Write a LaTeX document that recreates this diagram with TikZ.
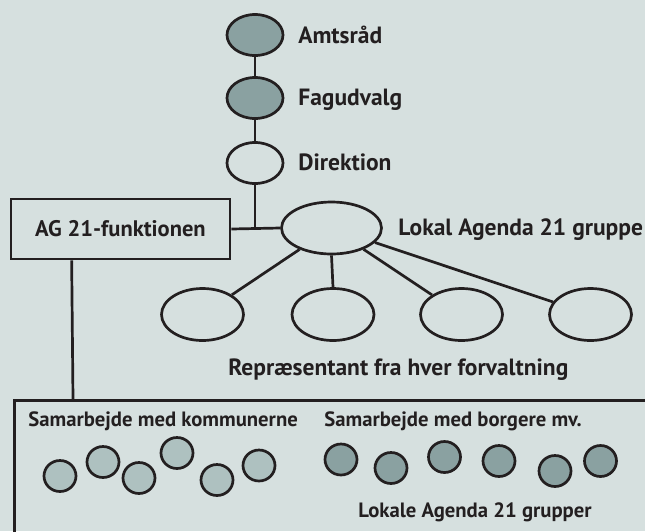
\documentclass[tikz,border=0pt]{standalone}
\usepackage{fontspec}
\setmainfont{PT Sans}
\usetikzlibrary{shapes.geometric}
\definecolor{bgcol}{RGB}{214,224,223}
\definecolor{darkfill}{RGB}{138,161,161}
\definecolor{lightfill}{RGB}{174,193,192}
\definecolor{inkcol}{RGB}{35,31,32}

\begin{document}
\begin{tikzpicture}[x=1pt,y=-1pt,inkcol,line width=2.7pt,
  lbl/.style={inner sep=0pt,anchor=base west},
  small/.style={lbl,font=\fontsize{20.7}{25}\selectfont\bfseries},
  oval/.style={ellipse,draw,inner sep=0pt},
  top/.style={oval,minimum width=56pt,minimum height=41pt},
  rep/.style={oval,minimum width=82pt,minimum height=52pt,fill=bgcol},
  kom/.style={oval,minimum width=32pt,minimum height=31pt,fill=lightfill},
  borg/.style={oval,minimum width=32pt,minimum height=31pt,fill=darkfill}]
\fontsize{23.5}{28}\selectfont\bfseries
\useasboundingbox (0,0) rectangle (645,531);
\fill[bgcol] (0,0) rectangle (645,531);

\node[top,fill=darkfill] (amt) at (255,35) {};
\node[top,fill=darkfill] (fag) at (255,98) {};
\node[top,fill=bgcol] (dir) at (255,163) {};
\draw (amt) -- (fag);
\draw (fag) -- (dir);
\node[lbl] (amtlbl) at (297,43) {Amtsråd};
\node[lbl] (faglbl) at (297,105) {Fagudvalg};
\node[lbl] (dirlbl) at (297,170) {Direktion};

\node[draw,rectangle,minimum width=219pt,minimum height=60pt,inner sep=0pt,
  font=\fontsize{22.5}{27}\selectfont\bfseries] (ag) at (120.5,229) {AG 21-funktionen};
\node[oval,minimum width=100pt,minimum height=52pt] (lokal) at (331.5,228) {};
\node[lbl] (lokallbl) at (397,235) {Lokal Agenda 21 gruppe};
\draw (ag.east) -- (lokal.west);
\draw (dir) -- (dir |- ag.east);

\node[rep] (r1) at (202.5,314.5) {};
\node[rep] (r2) at (333,314.5) {};
\node[rep] (r3) at (461.5,314.5) {};
\node[rep] (r4) at (590.5,314.5) {};
\draw (lokal) -- (r1);
\draw (lokal.south) -- (r2.north);
\draw (lokal) -- (r3);
\draw (lokal) -- (r4);
\node[lbl] (replbl) at (227,375) {Repræsentant fra hver forvaltning};

\node[draw,rectangle,anchor=north west,minimum width=680pt,minimum height=170pt,
  inner sep=0pt] (samarb) at (13,399) {};
\draw ([xshift=62pt]ag.south west) -- ([xshift=60pt]samarb.north west);
\node[small] (komlbl) at (27,426) {Samarbejde med kommunerne};
\node[small] (borglbl) at (323,426) {Samarbejde med borgere mv.};
\node[small] (grplbl) at (357,517) {Lokale Agenda 21 grupper};

\node[kom] (k1) at (60,476) {};
\node[kom] (k2) at (103,462) {};
\node[kom] (k3) at (139,478) {};
\node[kom] (k4) at (177,453) {};
\node[kom] (k5) at (217,480) {};
\node[kom] (k6) at (259,465.5) {};

\node[borg] (b1) at (341,459.5) {};
\node[borg] (b2) at (391,468) {};
\node[borg] (b3) at (444.5,457) {};
\node[borg] (b4) at (499,461) {};
\node[borg] (b5) at (555,471) {};
\node[borg] (b6) at (600.5,461) {};
\end{tikzpicture}
\end{document}
